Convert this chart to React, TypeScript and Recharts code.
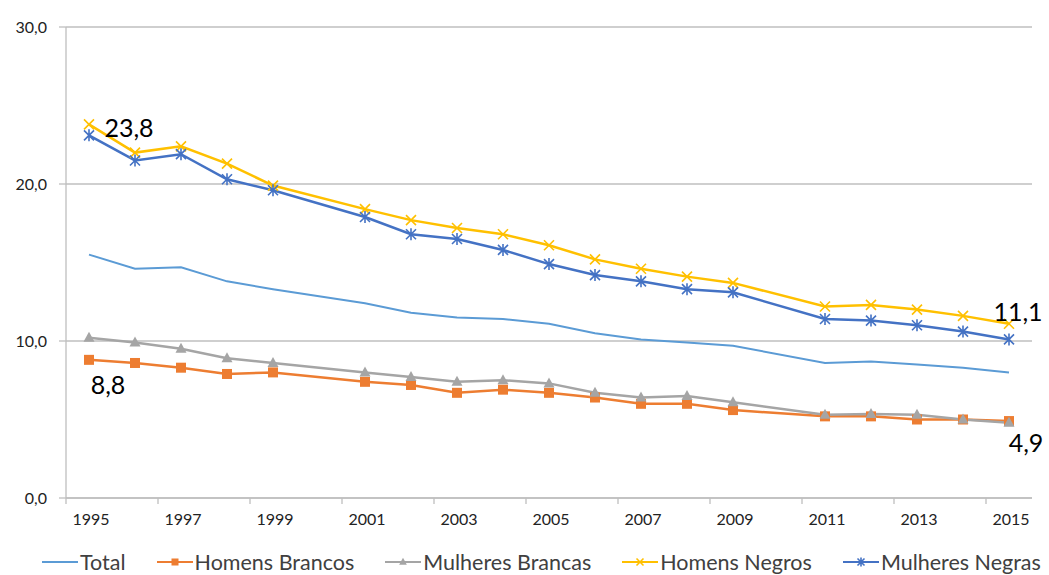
import React from 'react';
import { LineChart, Line, XAxis, YAxis, CartesianGrid } from 'recharts';

const years = [
  '1995', '1996', '1997', '1998', '1999', '2000', '2001', '2002', '2003', '2004', '2005',
  '2006', '2007', '2008', '2009', '2010', '2011', '2012', '2013', '2014', '2015',
];

// 2000 and 2010 have no survey, lines connect over them
const total = [15.5, 14.6, 14.7, 13.8, 13.3, null, 12.4, 11.8, 11.5, 11.4, 11.1, 10.5, 10.1, 9.9, 9.7, null, 8.6, 8.7, 8.5, 8.3, 8.0];
const homensBrancos = [8.8, 8.6, 8.3, 7.9, 8.0, null, 7.4, 7.2, 6.7, 6.9, 6.7, 6.4, 6.0, 6.0, 5.6, null, 5.2, 5.2, 5.0, 5.0, 4.9];
const mulheresBrancas = [10.2, 9.9, 9.5, 8.9, 8.6, null, 8.0, 7.7, 7.4, 7.5, 7.3, 6.7, 6.4, 6.5, 6.1, null, 5.3, 5.35, 5.3, 5.0, 4.8];
const homensNegros = [23.8, 22.0, 22.4, 21.3, 19.9, null, 18.4, 17.7, 17.2, 16.8, 16.1, 15.2, 14.6, 14.1, 13.7, null, 12.2, 12.3, 12.0, 11.6, 11.1];
const mulheresNegras = [23.1, 21.5, 21.9, 20.3, 19.6, null, 17.9, 16.8, 16.5, 15.8, 14.9, 14.2, 13.8, 13.3, 13.1, null, 11.4, 11.3, 11.0, 10.6, 10.1];

const yTicks = [0, 10, 20, 30];

const COLORS = {
  total: '#5B9BD5',
  hb: '#ED7D31',
  mb: '#A5A5A5',
  hn: '#FFC000',
  mn: '#4472C4',
};

const FONT = 'Lato, "Open Sans", sans-serif';

const data = years.map((year, i) => ({
  year,
  total: total[i],
  hb: homensBrancos[i],
  mb: mulheresBrancas[i],
  hn: homensNegros[i],
  mn: mulheresNegras[i],
}));

const WIDTH = 1049;
const HEIGHT = 575;
const MARGIN = { top: 27, right: 17, left: 0, bottom: 37 };
const Y_WIDTH = 66;
const BAND = (WIDTH - MARGIN.left - MARGIN.right - Y_WIDTH) / years.length;

const fmt = (v: number) => v.toFixed(1).replace('.', ',');

function Marker({ kind, cx, cy, color, s = 1 }: { kind: string; cx: number; cy: number; color: string; s?: number }) {
  if (kind === 'square') {
    return <rect x={cx - 5 * s} y={cy - 5 * s} width={10 * s} height={10 * s} fill={color} />;
  }
  if (kind === 'triangle') {
    return <path d={`M${cx},${cy - 6 * s}L${cx + 5.5 * s},${cy + 4 * s}L${cx - 5.5 * s},${cy + 4 * s}Z`} fill={color} />;
  }
  if (kind === 'x') {
    const r = 5 * s;
    return (
      <path d={`M${cx - r},${cy - r}L${cx + r},${cy + r}M${cx - r},${cy + r}L${cx + r},${cy - r}`} stroke={color} strokeWidth={1.6} />
    );
  }
  if (kind === 'star') {
    const r = 5 * s;
    return (
      <path
        d={`M${cx - r},${cy - r}L${cx + r},${cy + r}M${cx - r},${cy + r}L${cx + r},${cy - r}M${cx},${cy - r - 1}L${cx},${cy + r + 1}`}
        stroke={color}
        strokeWidth={1.6}
      />
    );
  }
  return null;
}

const makeDot = (kind: string, color: string) => (props: any) => {
  const { cx, cy, value, index } = props;
  if (value == null || cx == null || cy == null) return <g key={`d-${kind}-${index}`} />;
  return (
    <g key={`d-${kind}-${index}`}>
      <Marker kind={kind} cx={cx} cy={cy} color={color} />
    </g>
  );
};

// value labels on first and last points only
const makeLabel = (first: [number, number] | null, last: [number, number] | null) => (props: any) => {
  const { x, y, value, index } = props;
  let off: [number, number] | null = null;
  if (index === 0) off = first;
  if (index === years.length - 1) off = last;
  if (!off || value == null) return null;
  return (
    <text x={x + off[0]} y={y + off[1]} fontSize={25} fill="#000" fontFamily={FONT} textAnchor="middle" dominantBaseline="central">
      {fmt(value)}
    </text>
  );
};

const XTick = (props: any) => {
  const { x, y, payload, index } = props;
  if (index % 2 !== 0) return <g />;
  const bx = x - BAND / 2;
  return (
    <g>
      <line x1={bx} y1={y - 8} x2={bx} y2={y - 2} stroke="#BFBFBF" strokeWidth={1.3} />
      <text x={x + 2} y={y + 19} textAnchor="middle" fontSize={16} fill="#222" fontFamily={FONT}>
        {payload.value}
      </text>
    </g>
  );
};

const legendItems = [
  { name: 'Total', color: COLORS.total, kind: 'none' },
  { name: 'Homens Brancos', color: COLORS.hb, kind: 'square' },
  { name: 'Mulheres Brancas', color: COLORS.mb, kind: 'triangle' },
  { name: 'Homens Negros', color: COLORS.hn, kind: 'x' },
  { name: 'Mulheres Negras', color: COLORS.mn, kind: 'star' },
];

export default function App() {
  return (
    <div style={{ position: 'absolute', left: 0, top: 0, width: WIDTH, height: HEIGHT, background: '#fff' }}>
      <LineChart width={WIDTH} height={HEIGHT} data={data} margin={MARGIN}>
        <CartesianGrid vertical={false} stroke="#BFBFBF" strokeWidth={1.3} />
        <XAxis
          dataKey="year"
          interval={0}
          tickLine={false}
          padding={{ left: BAND / 2, right: BAND / 2 }}
          axisLine={{ stroke: '#BFBFBF', strokeWidth: 1.3 }}
          tick={<XTick />}
          height={40}
        />
        <YAxis
          domain={[0, 30]}
          ticks={yTicks}
          width={Y_WIDTH}
          tickFormatter={fmt}
          tickSize={7}
          tickMargin={12}
          tickLine={{ stroke: '#BFBFBF', strokeWidth: 1.3 }}
          axisLine={{ stroke: '#BFBFBF', strokeWidth: 1.3 }}
          tick={{ fontSize: 16, fill: '#222', fontFamily: FONT }}
        />
        <Line type="linear" dataKey="total" stroke={COLORS.total} strokeWidth={2} dot={false} connectNulls isAnimationActive={false} />
        <Line
          type="linear"
          dataKey="hb"
          stroke={COLORS.hb}
          strokeWidth={2.5}
          dot={makeDot('square', COLORS.hb)}
          connectNulls
          isAnimationActive={false}
          label={makeLabel([19, 24], [17, 21])}
        />
        <Line type="linear" dataKey="mb" stroke={COLORS.mb} strokeWidth={2.5} dot={makeDot('triangle', COLORS.mb)} connectNulls isAnimationActive={false} />
        <Line
          type="linear"
          dataKey="hn"
          stroke={COLORS.hn}
          strokeWidth={2.5}
          dot={makeDot('x', COLORS.hn)}
          connectNulls
          isAnimationActive={false}
          label={makeLabel([40, 3], [9, -13])}
        />
        <Line type="linear" dataKey="mn" stroke={COLORS.mn} strokeWidth={2.5} dot={makeDot('star', COLORS.mn)} connectNulls isAnimationActive={false} />
      </LineChart>
      <div
        style={{
          position: 'absolute',
          left: 42,
          top: 549,
          display: 'flex',
          gap: 31,
          fontFamily: FONT,
          fontSize: 21.5,
          color: '#404040',
          whiteSpace: 'nowrap',
        }}
      >
        {legendItems.map((it) => (
          <div key={it.name} style={{ display: 'flex', alignItems: 'center' }}>
            <svg width={36} height={26} style={{ marginRight: 2 }}>
              <line x1={0} y1={13} x2={36} y2={13} stroke={it.color} strokeWidth={2} />
              <Marker kind={it.kind} cx={18} cy={13} color={it.color} s={0.7} />
            </svg>
            <span>{it.name}</span>
          </div>
        ))}
      </div>
    </div>
  );
}
